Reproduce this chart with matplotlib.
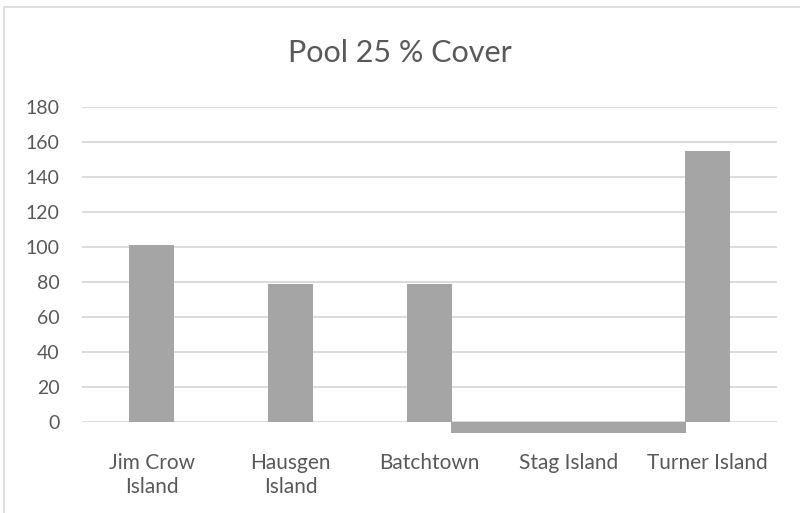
import matplotlib
matplotlib.use("Agg")
import matplotlib.pyplot as plt
from matplotlib.patches import Rectangle

# Pool 25 percent cover by site
sites = ["Jim Crow\nIsland", "Hausgen\nIsland", "Batchtown", "Stag Island", "Turner Island"]
cover = [101, 79, 79, -6.5, 155]
bar_widths = [0.32, 0.32, 0.32, 1.69, 0.32]
y_ticks = list(range(0, 181, 20))

BAR = "#A5A5A5"
GRID = "#D9D9D9"
TEXT = "#595959"

plt.rcParams["font.family"] = ["Lato", "DejaVu Sans"]

fig = plt.figure(figsize=(8.0, 5.13), dpi=100)
ax = fig.add_axes([0.1025, 0.1774, 0.8688, 0.614])

# chart area frame
fig.patches.append(Rectangle((4 / 800, -0.05), 1.1, 1 - 7 / 513 + 0.05,
                             transform=fig.transFigure, fill=False,
                             edgecolor=GRID, linewidth=1.2))

x = list(range(len(sites)))
ax.bar(x, cover, width=bar_widths, color=BAR, zorder=3, clip_on=False)

ax.set_xlim(-0.5, len(sites) - 0.5)
ax.set_ylim(0, 180)
ax.set_yticks(y_ticks)
ax.set_xticks(x)
ax.set_xticklabels(sites, fontsize=15, linespacing=1.3)
ax.grid(True, axis="y", color=GRID, linewidth=1.3, zorder=0)
ax.set_axisbelow(True)
for s in ax.spines.values():
    s.set_visible(False)
ax.tick_params(axis="both", length=0, colors=TEXT)
ax.tick_params(axis="y", pad=16, labelsize=14)
ax.tick_params(axis="x", pad=22)

fig.text(0.5, 1 - 53 / 513, "Pool 25 % Cover", ha="center", va="center",
         fontsize=22, color=TEXT)

fig.savefig("out.png", dpi=100)
